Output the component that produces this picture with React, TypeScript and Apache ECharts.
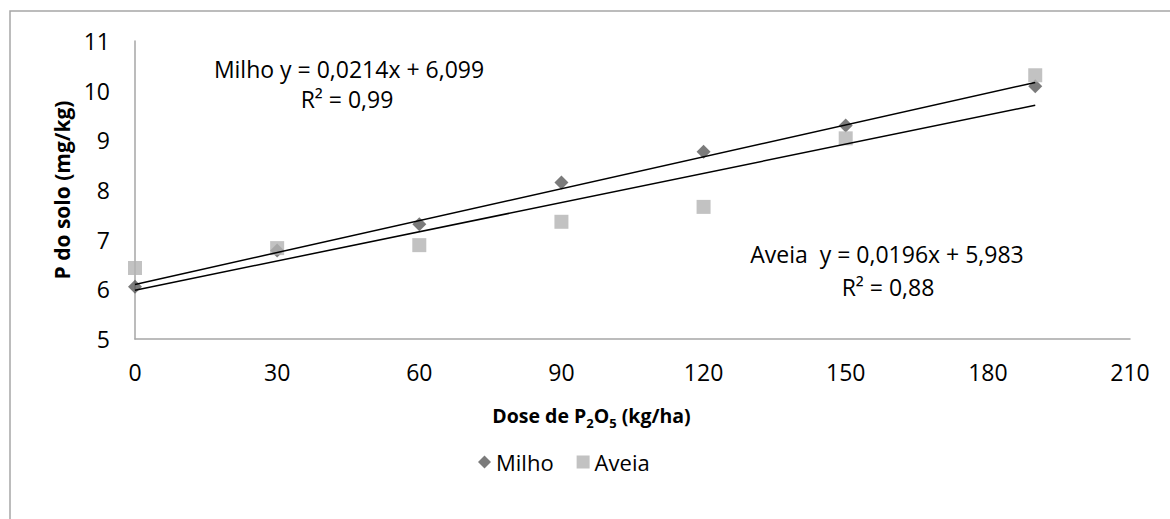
import React, { useEffect, useRef } from "react";
import * as echarts from "echarts";

// ---- data ----
const doses = [0, 30, 60, 90, 120, 150, 190];
const milho = [6.05, 6.78, 7.31, 8.15, 8.77, 9.3, 10.09];
const aveia = [6.43, 6.83, 6.89, 7.36, 7.66, 9.04, 10.31];
const milhoTrend = { slope: 0.0214, intercept: 6.099 };
const aveiaTrend = { slope: 0.0196, intercept: 5.983 };
const milhoLabel = ["Milho y = 0,0214x + 6,099", "R² = 0,99"];
const aveiaLabel = ["Aveia  y = 0,0196x + 5,983", "R² = 0,88"];
const xAxisTicks = { min: 0, max: 210, interval: 30 };
const yAxisTicks = { min: 5, max: 11, interval: 1 };
const seriesNames = ["Milho", "Aveia"];

const FONT = '"Open Sans", "Noto Sans", sans-serif';

export default function App() {
  const ref = useRef<HTMLDivElement>(null);

  useEffect(() => {
    document.body.style.margin = "0";
    if (!ref.current) return;
    const chart = echarts.init(ref.current, null, { renderer: "svg" });

    const trendData = (t: { slope: number; intercept: number }) => {
      const x0 = doses[0];
      const x1 = doses[doses.length - 1];
      return [
        [x0, t.intercept + t.slope * x0],
        [x1, t.intercept + t.slope * x1],
      ];
    };

    const txt = (text: string, x: number, y: number) => ({
      type: "text",
      x,
      y,
      silent: true,
      style: {
        text,
        fontSize: 23,
        fontFamily: FONT,
        fill: "#000",
        align: "center",
        verticalAlign: "middle",
      },
    });

    chart.setOption({
      animation: false,
      backgroundColor: "#fff",
      textStyle: { fontFamily: FONT },
      grid: { left: 135, right: 40, top: 41, bottom: 180, containLabel: false },
      xAxis: {
        type: "value",
        min: xAxisTicks.min,
        max: xAxisTicks.max,
        interval: xAxisTicks.interval,
        splitLine: { show: false },
        axisTick: { show: false },
        axisLine: { show: true, lineStyle: { color: "#a6a6a6", width: 1.5 } },
        axisLabel: { color: "#000", fontSize: 23, fontFamily: FONT, margin: 21 },
        name: "Dose de P{s|2}O{s|5} (kg/ha)",
        nameLocation: "middle",
        nameGap: 62,
        nameTextStyle: {
          color: "#000",
          fontSize: 19.5,
          fontWeight: "bold",
          fontFamily: FONT,
          lineHeight: 28,
          padding: [0, 82, 0, 0],
          rich: {
            s: {
              fontSize: 13,
              fontWeight: "bold",
              fontFamily: FONT,
              color: "#000",
              lineHeight: 13,
              verticalAlign: "bottom",
            },
          },
        },
      },
      yAxis: {
        type: "value",
        min: yAxisTicks.min,
        max: yAxisTicks.max,
        interval: yAxisTicks.interval,
        splitLine: { show: false },
        axisTick: { show: false },
        axisLine: { show: true, lineStyle: { color: "#a6a6a6", width: 1.5 } },
        axisLabel: { color: "#000", fontSize: 23, fontFamily: FONT, margin: 25 },
        name: "P do solo (mg/kg)",
        nameLocation: "middle",
        nameGap: 60,
        nameTextStyle: {
          color: "#000",
          fontSize: 21,
          fontWeight: "bold",
          fontFamily: FONT,
        },
      },
      legend: {
        left: 473,
        top: 446,
        itemWidth: 13,
        itemHeight: 13,
        itemGap: 23,
        textStyle: { color: "#000", fontSize: 22, fontFamily: FONT },
        data: [
          { name: seriesNames[0], icon: "diamond" },
          { name: seriesNames[1], icon: "rect" },
        ],
      },
      series: [
        {
          name: seriesNames[0],
          type: "scatter",
          symbol: "diamond",
          symbolSize: 14,
          itemStyle: { color: "#5a5a5a" },
          data: doses.map((d, i) => [d, milho[i]]),
          z: 2,
        },
        {
          name: seriesNames[1],
          type: "scatter",
          symbol: "rect",
          symbolSize: 14,
          itemStyle: { color: "#b3b3b3" },
          data: doses.map((d, i) => [d, aveia[i]]),
          z: 3,
        },
        {
          name: "Milho trend",
          type: "line",
          showSymbol: false,
          symbol: "none",
          lineStyle: { color: "#000", width: 1.5 },
          data: trendData(milhoTrend),
          z: 4,
        },
        {
          name: "Aveia trend",
          type: "line",
          showSymbol: false,
          symbol: "none",
          lineStyle: { color: "#000", width: 1.5 },
          data: trendData(aveiaTrend),
          z: 4,
        },
      ],
      graphic: [
        {
          type: "rect",
          silent: true,
          z: -10,
          shape: { x: 10, y: 11, width: 1400, height: 800 },
          style: { fill: "none", stroke: "#a6a6a6", lineWidth: 1.5 },
        },
        txt(milhoLabel[0], 349, 69),
        txt(milhoLabel[1], 347, 99),
        txt(aveiaLabel[0], 887, 254),
        txt(aveiaLabel[1], 888, 287),
      ],
    });

    return () => chart.dispose();
  }, []);

  return <div ref={ref} style={{ width: 1170, height: 519 }} />;
}
